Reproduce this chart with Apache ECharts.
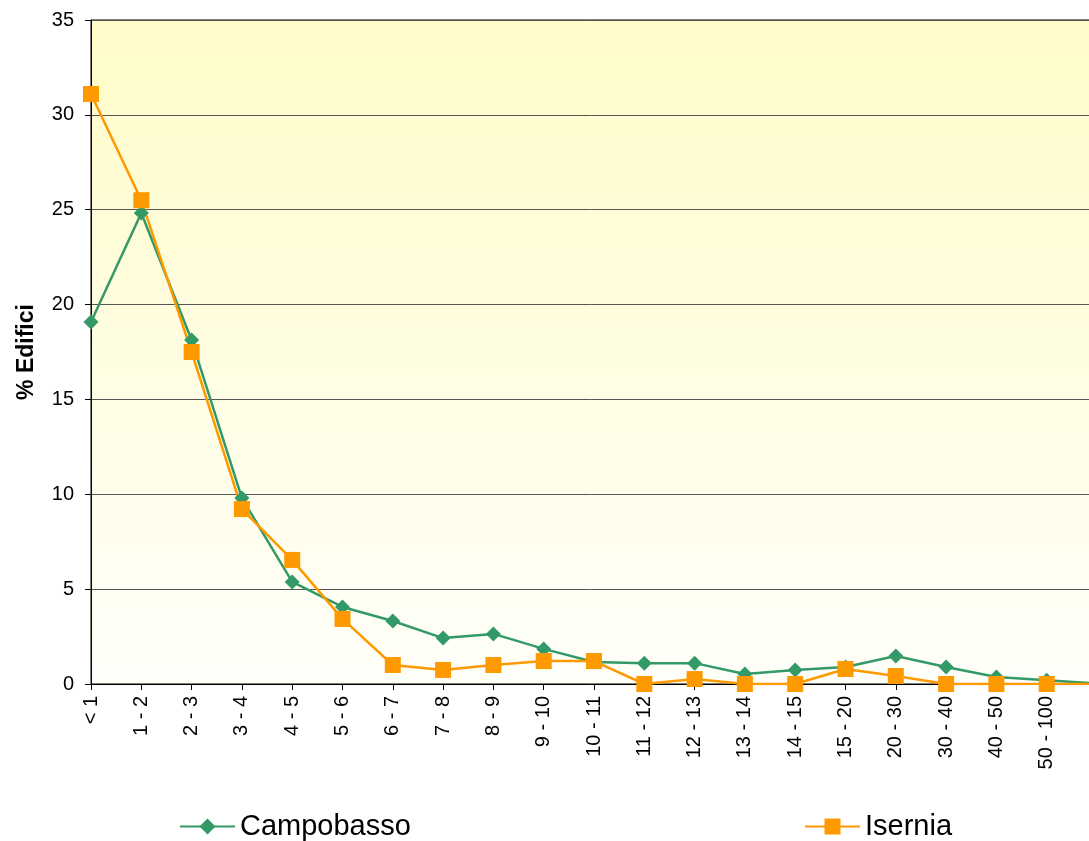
<!DOCTYPE html>
<html>
<head>
<meta charset="utf-8">
<style>
html, body { margin:0; padding:0; background:#fff; }
#chart { width:1089px; height:841px; }
</style>
</head>
<body>
<div id="chart"></div>
<script src="https://cdn.jsdelivr.net/npm/echarts@6/dist/echarts.min.js"></script>
<script type="text/javascript">
	// classi di superficie / categorie asse x
	var categories = ['< 1','1 - 2','2 - 3','3 - 4','4 - 5','5 - 6','6 - 7','7 - 8','8 - 9','9 - 10',
		'10 - 11','11 - 12','12 - 13','13 - 14','14 - 15','15 - 20','20 - 30','30 - 40','40 - 50','50 - 100','> 100'];
	// % edifici
	var campobasso = [19.08, 24.83, 18.13, 9.8, 5.38, 4.06, 3.32, 2.42, 2.64, 1.85,
		1.16, 1.1, 1.1, 0.53, 0.74, 0.9, 1.48, 0.9, 0.37, 0.2, 0.02];
	var isernia = [31.1, 25.5, 17.5, 9.22, 6.54, 3.43, 1.0, 0.74, 1.0, 1.21,
		1.21, 0, 0.26, 0, 0, 0.79, 0.42, 0, 0, 0, 0];
	var yTicks = {min: 0, max: 35, interval: 5};

	var dom = document.getElementById("chart");
	var myChart = echarts.init(dom);
	var font = 'Liberation Sans, Arial, sans-serif';

	var option = {
		animation: false,
		textStyle: {fontFamily: font},
		grid: {
			left: 91, top: 20, width: 1006, height: 664,
			outerBoundsMode: 'none',
			containLabel: false,
			show: true,
			borderColor: '#000', borderWidth: 1,
			backgroundColor: new echarts.graphic.LinearGradient(0, 0, 0, 1, [
				{offset: 0, color: '#FFFCC8'},
				{offset: 1, color: '#FFFFFA'}
			])
		},
		legend: [
			{
				data: ['Campobasso'], left: 174, top: 807,
				itemWidth: 55, itemHeight: 20, itemGap: 5,
				textStyle: {fontSize: 29, color: '#000', fontFamily: font}
			},
			{
				data: ['Isernia'], left: 799, top: 807,
				itemWidth: 55, itemHeight: 20, itemGap: 5,
				textStyle: {fontSize: 29, color: '#000', fontFamily: font}
			}
		],
		xAxis: {
			type: 'category',
			data: categories,
			boundaryGap: false,
			axisLine: {lineStyle: {color: '#000', width: 1}},
			axisTick: {show: true, length: 6, alignWithLabel: true, lineStyle: {color: '#000'}},
			axisLabel: {rotate: 90, fontSize: 20, color: '#000', margin: 12, interval: 0, fontFamily: font},
			splitLine: {show: false}
		},
		yAxis: {
			type: 'value',
			min: yTicks.min, max: yTicks.max, interval: yTicks.interval,
			name: '% Edifici',
			nameLocation: 'middle',
			nameGap: 53,
			nameTextStyle: {fontSize: 23, fontWeight: 'bold', color: '#000', fontFamily: font},
			axisLine: {show: true, lineStyle: {color: '#000', width: 1}},
			axisTick: {show: true, length: 6, lineStyle: {color: '#000'}},
			axisLabel: {fontSize: 20, color: '#000', margin: 17, fontFamily: font},
			splitLine: {show: true, lineStyle: {color: '#555', width: 1}}
		},
		series: [
			{
				name: 'Campobasso',
				type: 'line',
				data: campobasso,
				symbol: 'diamond',
				symbolSize: [15, 15],
				color: '#339966',
				lineStyle: {color: '#339966', width: 2.5},
				itemStyle: {color: '#339966'}
			},
			{
				name: 'Isernia',
				type: 'line',
				data: isernia,
				symbol: 'rect',
				symbolSize: 16,
				color: '#FF9900',
				lineStyle: {color: '#FF9900', width: 2.5},
				itemStyle: {color: '#FF9900'}
			}
		]
	};
	if (option && typeof option === "object") {
		myChart.setOption(option, true);
	}
</script>
</body>
</html>
